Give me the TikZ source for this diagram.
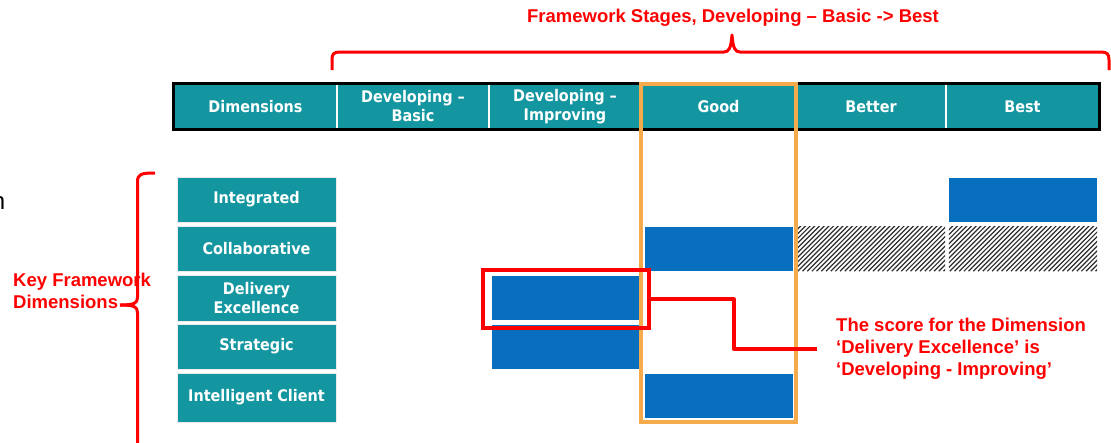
\documentclass[tikz,border=0pt]{standalone}
\usepackage{fontspec}
\setmainfont{Liberation Sans}
\newfontfamily\cellfont{DejaVu Sans Condensed}
\definecolor{tealcell}{RGB}{20,150,160}
\definecolor{scorebar}{RGB}{8,110,190}
\definecolor{goodframe}{RGB}{245,170,75}
\definecolor{markred}{RGB}{255,0,0}
\definecolor{hatchgray}{RGB}{45,45,45}
\begin{document}
\begin{tikzpicture}[x=1pt,y=-1pt,
  cellbase/.style={fill=tealcell, text=white, inner sep=0, align=center,
    font=\cellfont\bfseries\fontsize{16}{19}\selectfont},
  hcell/.style={cellbase, minimum height=45},
  dcell/.style={cellbase, minimum width=159, draw=black!8, line width=0.8},
  bar/.style={fill=scorebar, inner sep=0, minimum width=148, minimum height=44},
  redline/.style={draw=markred, line width=3, line join=round},
  redtext/.style={text=markred, inner sep=0, align=left,
    font=\bfseries\fontsize{18.5}{22}\selectfont},
  hatchline/.style={draw=hatchgray, line width=1.2}
]
\useasboundingbox (0,0) rectangle (1111,442);
\clip (0,0) rectangle (1111,442);

% stage header row
\node[hcell, minimum width=163] (hDim)    at (255.5,106.5) {Dimensions};
\node[hcell, minimum width=152] (hBasic)  at (413,106.5)   {Developing –\\Basic};
\node[hcell, minimum width=152] (hImpr)   at (565,106.5)   {Developing –\\Improving};
\node[hcell, minimum width=155] (hGood)   at (718.5,106.5) {Good};
\node[hcell, minimum width=150] (hBetter) at (871,106.5)   {Better};
\node[hcell, minimum width=153] (hBest)   at (1022.5,106.5){Best};
\foreach \c in {hBasic,hImpr,hBetter,hBest}
  \draw[white, line width=2] ([yshift=-1.5]\c.north west) -- ([yshift=1.5]\c.south west);
\draw[black, line width=3] (hDim.north west) rectangle (hBest.south east);

% dimension labels
\node[dcell, minimum height=45] (dInt)    at (256.5,199.5) {Integrated};
\node[dcell, minimum height=45] (dCol)    at (256.5,248.5) {Collaborative};
\node[dcell, minimum height=46] (dDel)    at (256.5,298)   {Delivery\\Excellence};
\node[dcell, minimum height=45] (dStr)    at (256.5,346.5) {Strategic};
\node[dcell, minimum height=49] (dIntel)  at (256.5,397.5) {Intelligent Client};

% score bars
\node[bar] (bInt)   at (1023,200) {};
\node[bar] (bCol)   at (719,249)  {};
\node[bar] (bDel)   at (566,298)  {};
\node[bar] (bStr)   at (566,347)  {};
\node[bar] (bIntel) at (719,396)  {};

% hatched target cells
\node[inner sep=0, minimum width=148, minimum height=44] (tBetter) at (871,249) {};
\node[inner sep=0, minimum width=148, minimum height=44] (tBest)   at (1023,249) {};
\foreach \t in {tBetter,tBest}{
  \begin{scope}
    \clip (\t.north west) rectangle (\t.south east);
    \foreach \k in {0,...,42}
      \draw[hatchline] ([xshift=-46+\k*4.7]\t.south west) -- ++(48,-48);
  \end{scope}
}

% highlighted stage column
\node[draw=goodframe, line width=3.5, inner sep=0,
      minimum width=155, minimum height=338] (goodCol) at (718.5,253) {};

% selected score and its note
\node[draw=markred, line width=3.5, inner sep=0,
      minimum width=166, minimum height=58] (pick) at (566,299) {};
\coordinate (noteEnd) at (817,349);
\draw[redline, line width=3.5] (pick.east) -- ++(83,0) |- (noteEnd);
\node[redtext, anchor=north west] (note) at (836,318)
  {The score for the Dimension\\‘Delivery Excellence’ is\\‘Developing - Improving’};

% stage brace and title
\node[redtext, anchor=base] (title) at (733,22)
  {Framework Stages, Developing – Basic -> Best};
\draw[redline] (332,70) -- (332,59) .. controls (332,54) and (334,52) .. (340,52)
  -- (724,52) .. controls (729,52) and (731,48) .. (732,35)
  .. controls (733,48) and (735,52) .. (740,52)
  -- (1101,52) .. controls (1107,52) and (1109,54) .. (1109,60) -- (1109,70);

% dimension brace and label
\node[redtext, anchor=north west] (keyDim) at (13,273) {Key Framework\\Dimensions};
\draw[redline] (155,173) .. controls (141,173) and (137.5,174) .. (137.5,182)
  -- (137.5,297) .. controls (137.5,303) and (135,305) .. (120,305);
\draw[redline] (120,305) .. controls (135,305) and (137.5,307) .. (137.5,313) -- (137.5,470);

% partly visible letter at the left edge
\node[inner sep=0, anchor=base east, font=\fontsize{24}{24}\selectfont] (edgeN) at (5.5,209) {n};
\end{tikzpicture}
\end{document}
